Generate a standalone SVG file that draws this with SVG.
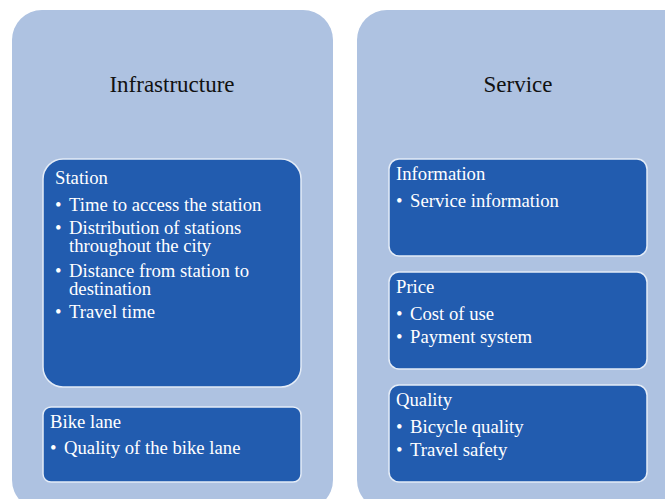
<svg xmlns="http://www.w3.org/2000/svg" width="665" height="499" viewBox="0 0 665 499">
  <style>
    .panel { fill: #AEC2E1; }
    .card { fill: #225CAF; stroke: #E4ECF7; stroke-width: 1.5; }
    .title { font-size: 23px; fill: #111111; text-anchor: middle; }
    .head { font-size: 18.7px; fill: #FFFFFF; }
    .item { font-size: 18.7px; fill: #FFFFFF; }
  </style>
  <rect width="665" height="499" fill="#FFFFFF"/>

  <g font-family="Liberation Serif, Times New Roman, serif">
    <!-- Infrastructure column -->
    <g id="infrastructure">
      <rect class="panel" x="12" y="10" width="321" height="500" rx="30"/>
      <text class="title" x="172" y="92">Infrastructure</text>
    </g>
    <g id="station">
      <rect class="card" x="43" y="159" width="258" height="228" rx="20"/>
      <text class="head" x="55" y="184">Station</text>
      <text class="item" x="55" y="211">•</text><text class="item" x="69" y="211">Time to access the station</text>
      <text class="item" x="55" y="234">•</text>
      <text class="item" x="69" y="234">Distribution of stations<tspan x="69" dy="18">throughout the city</tspan></text>
      <text class="item" x="55" y="277">•</text>
      <text class="item" x="69" y="277">Distance from station to<tspan x="69" dy="18">destination</tspan></text>
      <text class="item" x="55" y="318">•</text><text class="item" x="69" y="318">Travel time</text>
    </g>
    <g id="bike-lane">
      <rect class="card" x="43" y="407" width="258" height="75" rx="8"/>
      <text class="head" x="50" y="428">Bike lane</text>
      <text class="item" x="50" y="454">•</text><text class="item" x="64" y="454">Quality of the bike lane</text>
    </g>

    <!-- Service column -->
    <g id="service">
      <rect class="panel" x="357" y="10" width="340" height="500" rx="30"/>
      <text class="title" x="518" y="92">Service</text>
    </g>
    <g id="information">
      <rect class="card" x="389" y="159" width="258" height="97" rx="10"/>
      <text class="head" x="396" y="180">Information</text>
      <text class="item" x="396" y="207">•</text><text class="item" x="410" y="207">Service information</text>
    </g>
    <g id="price">
      <rect class="card" x="389" y="272" width="258" height="97" rx="10"/>
      <text class="head" x="396" y="293">Price</text>
      <text class="item" x="396" y="320">•</text><text class="item" x="410" y="320">Cost of use</text>
      <text class="item" x="396" y="343">•</text><text class="item" x="410" y="343">Payment system</text>
    </g>
    <g id="quality">
      <rect class="card" x="389" y="385" width="258" height="97" rx="10"/>
      <text class="head" x="396" y="406">Quality</text>
      <text class="item" x="396" y="433">•</text><text class="item" x="410" y="433">Bicycle quality</text>
      <text class="item" x="396" y="456">•</text><text class="item" x="410" y="456">Travel safety</text>
    </g>
  </g>

  <!-- no connectors between the columns -->
  <g id="connectors"/>
</svg>
